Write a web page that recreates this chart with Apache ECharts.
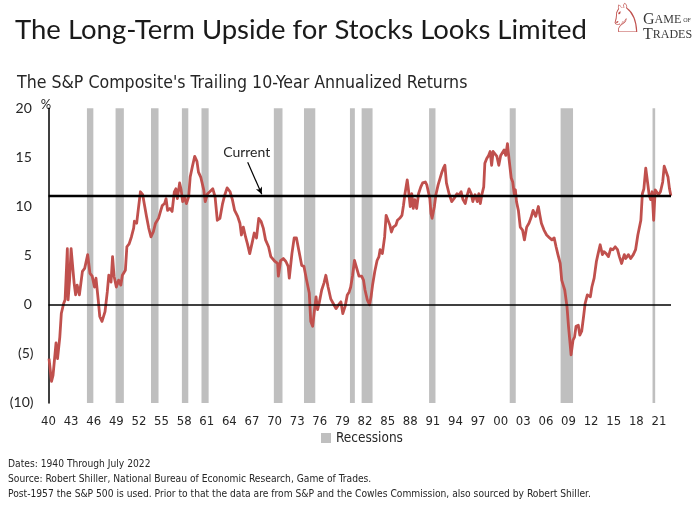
<!DOCTYPE html>
<html><head><meta charset="utf-8">
<script src="https://cdn.jsdelivr.net/npm/echarts@6/dist/echarts.min.js"></script>
<style>html,body{margin:0;padding:0;background:#fff}#c{width:700px;height:508px}</style>
</head><body><div id="c"></div>
<script>
// ---------- data ----------
const mainTitle = "The Long-Term Upside for Stocks Looks Limited";
const subTitle = "The S&P Composite's Trailing 10-Year Annualized Returns";
const footerLines = [
  "Dates: 1940 Through July 2022",
  "Source: Robert Shiller, National Bureau of Economic Research, Game of Trades.",
  "Post-1957 the S&P 500 is used. Prior to that the data are from S&P and the Cowles Commission, also sourced by Robert Shiller."
];
const baseYear = 1940;
const endYear = 2022.6;
const yTicks = [-10, -5, 0, 5, 10, 15, 20];
const currentValue = 11.1;
const currentLabel = "Current";
const recessionStart = [1945.1, 1948.9, 1953.6, 1957.7, 1960.3, 1969.9, 1973.9, 1980.0, 1981.55, 1990.5, 2001.2, 2007.95, 2020.15];
const recessionEnd   = [1945.95, 1950.0, 1954.6, 1958.55, 1961.25, 1971.05, 1975.4, 1980.65, 1983.0, 1991.35, 2002.0, 2009.6, 2020.5];
// [year, trailing 10-yr annualized return %]
const returns10y = [
[1940.07,-5.5],[1940.4,-7.8],[1940.6,-7.2],[1941.0,-3.9],[1941.2,-5.5],[1941.5,-3.3],[1941.7,-0.9],[1942.0,0.1],[1942.2,0.5],[1942.5,5.7],
[1942.6,0.5],[1942.8,2.5],[1943.0,5.7],[1943.2,5.9],[1943.4,2.2],[1943.6,1.0],[1943.8,2.0],[1944.1,1.0],[1944.3,2.2],[1944.5,3.4],
[1944.8,3.7],[1945.2,5.1],[1945.5,3.2],[1945.8,2.9],[1946.1,1.8],[1946.3,2.7],[1946.6,0.5],[1946.8,-1.2],[1947.1,-1.7],[1947.5,-0.7],
[1947.8,1.3],[1948.0,3.0],[1948.3,2.3],[1948.5,4.9],[1948.7,2.9],[1949.0,1.8],[1949.3,2.5],[1949.6,2.0],[1949.8,3.0],[1950.2,3.5],
[1950.4,5.9],[1950.7,6.2],[1951.0,6.9],[1951.3,7.8],[1951.4,8.5],[1951.7,8.3],[1951.9,9.6],[1952.2,11.5],[1952.5,11.2],[1952.7,10.3],
[1953.0,9.0],[1953.3,7.8],[1953.6,6.9],[1953.9,7.4],[1954.2,8.3],[1954.6,8.8],[1954.9,9.6],[1955.1,10.1],[1955.4,10.3],[1955.6,10.8],
[1955.8,9.6],[1956.1,9.8],[1956.4,9.5],[1956.7,11.5],[1956.9,11.8],[1957.1,10.8],[1957.4,12.4],[1957.6,11.7],[1957.8,10.5],[1958.0,11.0],
[1958.3,10.3],[1958.6,11.0],[1958.8,13.0],[1959.1,14.1],[1959.4,15.1],[1959.7,14.6],[1959.9,13.5],[1960.2,13.0],[1960.6,11.7],
[1960.8,10.5],[1961.1,11.3],[1961.4,11.5],[1961.8,11.8],[1962.1,11.0],[1962.4,8.6],[1962.75,8.8],[1963.1,10.3],[1963.4,11.2],[1963.7,11.9],
[1964.1,11.5],[1964.4,10.7],[1964.7,9.6],[1965.1,9.0],[1965.4,8.3],[1965.6,7.1],[1965.85,7.9],[1966.15,6.9],[1966.4,6.2],[1966.7,5.2],
[1967.05,6.4],[1967.3,7.3],[1967.6,6.8],[1967.9,8.8],[1968.2,8.5],[1968.5,7.8],[1968.8,6.6],[1969.2,5.9],[1969.5,4.9],[1969.7,5.1],
[1970.05,4.4],[1970.4,4.2],[1970.5,2.9],[1970.8,4.5],[1971.15,4.7],[1971.5,4.4],[1971.8,3.9],[1971.95,2.7],[1972.3,5.2],[1972.6,6.8],
[1972.9,6.8],[1973.2,5.6],[1973.6,4.0],[1973.9,3.9],[1974.25,2.5],[1974.6,1.2],[1974.8,-1.7],[1975.05,-2.2],[1975.3,-0.5],[1975.5,0.8],
[1975.7,-0.5],[1975.9,0.1],[1976.25,1.5],[1976.55,2.2],[1976.8,3.0],[1977.1,1.8],[1977.45,0.6],[1977.8,0.1],[1978.15,-0.4],[1978.5,0.0],
[1978.8,0.3],[1979.05,-0.9],[1979.35,-0.2],[1979.65,1.0],[1979.9,1.3],[1980.1,1.8],[1980.35,3.0],[1980.6,4.5],[1980.8,4.7],
[1981.2,2.9],[1981.55,2.9],[1981.8,2.5],[1982.0,1.5],[1982.3,0.5],[1982.6,0.0],[1982.8,0.8],[1983.0,2.0],[1983.3,3.4],[1983.6,4.5],
[1983.85,4.9],[1984.0,5.6],[1984.3,5.2],[1984.6,6.9],[1984.8,9.1],[1985.0,9.1],[1985.3,8.1],[1985.5,7.4],[1985.75,7.9],[1986.1,8.1],
[1986.3,8.6],[1986.6,8.8],[1986.9,9.1],[1987.1,10.1],[1987.3,11.3],[1987.6,12.7],[1987.75,11.8],[1988.0,10.0],[1988.2,11.3],[1988.4,9.8],
[1988.6,10.7],[1988.85,9.8],[1989.1,11.3],[1989.4,12.0],[1989.65,12.4],[1990.0,12.5],[1990.2,12.2],[1990.4,12.4],[1990.6,10.8],[1990.75,9.3],
[1990.9,8.8],[1991.2,10.0],[1991.4,11.2],[1991.7,12.2],[1991.95,12.4],[1992.2,13.5],[1992.4,13.9],[1992.6,14.2],[1992.8,12.4],[1993.15,11.3],
[1993.5,10.5],[1993.8,10.8],[1994.2,11.3],[1994.5,11.2],[1994.75,11.5],[1995.0,10.7],[1995.3,10.3],[1995.5,11.0],[1995.8,11.8],[1996.1,11.3],
[1996.3,10.5],[1996.6,11.2],[1996.9,10.5],[1997.1,11.3],[1997.3,10.3],[1997.5,11.2],[1997.75,12.0],[1997.9,14.4],[1998.15,14.9],[1998.4,15.2],
[1998.6,15.6],[1998.8,14.2],[1999.0,15.6],[1999.25,15.75],[1999.5,15.1],[1999.75,14.2],[2000.0,15.2],[2000.2,15.2],[2000.45,15.75],[2000.67,15.2],
[2000.9,16.4],[2001.1,14.9],
[2001.4,12.9],[2001.6,12.5],[2001.8,11.3],[2001.95,11.7],[2002.1,10.5],[2002.35,9.6],[2002.6,7.9],[2002.9,7.6],[2003.15,6.6],[2003.45,7.9],
[2003.75,8.3],[2004.0,8.8],[2004.3,9.6],[2004.65,9.0],[2005.0,10.0],[2005.2,9.1],[2005.4,8.3],[2005.75,7.6],[2006.1,7.1],[2006.5,6.8],
[2006.8,6.6],[2007.1,6.8],[2007.35,5.9],[2007.6,5.1],[2007.9,4.2],[2008.1,2.5],[2008.3,2.0],[2008.5,1.5],[2008.8,-0.2],[2009.0,-2.2],
[2009.2,-3.9],[2009.34,-5.1],[2009.6,-3.6],[2009.8,-3.3],[2010.0,-2.2],[2010.3,-2.1],[2010.5,-3.1],[2010.75,-2.7],[2011.0,-1.2],[2011.2,0.1],
[2011.5,1.0],[2011.9,0.8],[2012.1,1.8],[2012.4,2.7],[2012.7,4.4],[2012.9,5.1],[2013.2,6.1],[2013.5,5.1],[2013.7,5.4],[2014.0,5.2],
[2014.3,4.9],[2014.6,5.7],[2014.9,5.6],[2015.2,5.9],[2015.5,5.6],[2015.75,4.9],[2016.05,4.2],[2016.4,5.1],[2016.6,4.7],[2016.95,5.1],
[2017.25,4.7],[2017.6,5.1],[2017.9,5.6],[2018.2,7.1],[2018.4,6.9],[2018.6,8.6],[2018.8,11.3],[2019.0,11.8],[2019.25,13.9],[2019.5,12.4],
[2019.7,11.2],[2019.9,10.7],[2020.1,11.5],[2020.3,8.6],[2020.5,11.7],[2020.7,11.8],[2020.95,11.2],[2021.2,11.5],[2021.5,12.5],[2021.7,14.1],
[2021.95,14.2],[2022.2,13.0],[2022.4,11.8],[2022.58,11.1]
];
// annotation anchors (year, value)
const currentTextAt = [1966.3, 15.5];
const currentArrowFrom = [1966.43, 14.5];
const currentArrowTo = [1968.3, 11.25];

// ---------- chart ----------
const narrow = "'DejaVu Sans Condensed','Liberation Sans Narrow',sans-serif";
const regular = "Lato,'Noto Sans',sans-serif";
const ink = '#262626';
const off = y => y - baseYear;

const chart = echarts.init(document.getElementById('c'), null, {renderer: 'canvas'});
chart.setOption({
  animation: false,
  backgroundColor: '#fff',
  title: [
    {text: mainTitle, left: 10, top: 11, textStyle: {fontFamily: regular, fontSize: 27.5, fontWeight: 'normal', color: '#1a1a1a'}},
    {text: subTitle, left: 12, top: 69, textStyle: {fontFamily: narrow, fontSize: 17.6, fontWeight: 'normal', color: ink}}
  ],
  grid: {left: 48.5, right: 29, top: 108.3, bottom: 105.1, containLabel: false},
  legend: {
    data: [{name: 'Recessions', icon: 'rect'}],
    left: 316, top: 426, itemWidth: 10, itemHeight: 10, itemGap: 4,
    textStyle: {fontFamily: narrow, fontSize: 13.5, color: ink}
  },
  xAxis: {
    type: 'value', min: 0, max: off(endYear), interval: 3,
    axisLine: {show: false}, axisTick: {show: false}, splitLine: {show: false},
    axisLabel: {
      showMaxLabel: false, margin: 12, fontFamily: narrow, fontSize: 13, color: ink,
      formatter: v => String(Math.round(baseYear + v) % 100).padStart(2, '0')
    }
  },
  yAxis: {
    type: 'value', min: yTicks[0], max: yTicks[yTicks.length - 1], interval: 5,
    name: '%', nameLocation: 'end', nameGap: -3,
    nameTextStyle: {fontFamily: regular, fontSize: 13, color: ink, align: 'center', padding: [0, 5, 0, 0]},
    axisLine: {show: true, lineStyle: {color: '#000', width: 1.5}},
    axisTick: {show: false}, splitLine: {show: false},
    axisLabel: {
      margin: 15, fontFamily: regular, fontSize: 14, color: ink,
      formatter: v => v < 0 ? '(' + (-v) + ')' : v + '\u2009'
    }
  },
  series: [
    {
      name: 'Recessions', type: 'line', data: [], z: 1,
      itemStyle: {color: '#bfbfbf'},
      markArea: {
        silent: true, itemStyle: {color: '#bfbfbf'},
        data: recessionStart.map((s, i) => [{xAxis: off(s)}, {xAxis: off(recessionEnd[i])}])
      }
    },
    {
      name: 'S&P Composite 10-yr', type: 'line', z: 3,
      data: returns10y.map(p => [off(p[0]), p[1]]),
      showSymbol: false, symbol: 'none',
      lineStyle: {color: '#C0504D', width: 2.8, join: 'round'},
      markLine: {
        silent: true, symbol: ['none', 'none'], label: {show: false},
        lineStyle: {color: '#000', type: 'solid'},
        data: [
          {yAxis: 0, lineStyle: {width: 1.5, color: '#000', type: 'solid'}},
          {yAxis: currentValue, lineStyle: {width: 2.3, color: '#000', type: 'solid'}},
          [
            {coord: [off(currentArrowFrom[0]), currentArrowFrom[1]], symbol: 'none', lineStyle: {width: 1.2, color: '#000', type: 'solid'}},
            {coord: [off(currentArrowTo[0]), currentArrowTo[1]], symbol: 'arrow', symbolSize: [5, 7]}
          ]
        ]
      },
      markPoint: {
        silent: true,
        data: [{
          coord: [off(currentTextAt[0]), currentTextAt[1]],
          symbol: 'circle', symbolSize: 1, itemStyle: {color: 'rgba(0,0,0,0)'},
          label: {show: true, position: 'inside', formatter: currentLabel, fontFamily: regular, fontSize: 14, color: ink}
        }]
      }
    }
  ],
  graphic: [
    {type: 'text', left: 8, top: 457, style: {text: footerLines.join('\n'), font: "10.2px 'DejaVu Sans Condensed','Liberation Sans Narrow',sans-serif", lineHeight: 15, fill: ink}},
    {type: 'text', left: 608, top: 2, style: {text: '\u2658', font: "40px 'DejaVu Sans'", fill: '#C0504D'}},
    {type: 'text', left: 643, top: 12, style: {
      text: '{b|G}{s|AME}{t|OF}\n{b|T}{s|RADES}',
      rich: {
        b: {font: "16px 'Liberation Serif','DejaVu Serif',serif", fill: '#3a3a3a', lineHeight: 15},
        s: {font: "12px 'Liberation Serif','DejaVu Serif',serif", fill: '#3a3a3a', lineHeight: 15},
        t: {font: "6px 'Liberation Serif','DejaVu Serif',serif", fill: '#3a3a3a', lineHeight: 15, padding: [0, 0, 0, 2]}
      }
    }}
  ]
});
</script>
</body></html>
